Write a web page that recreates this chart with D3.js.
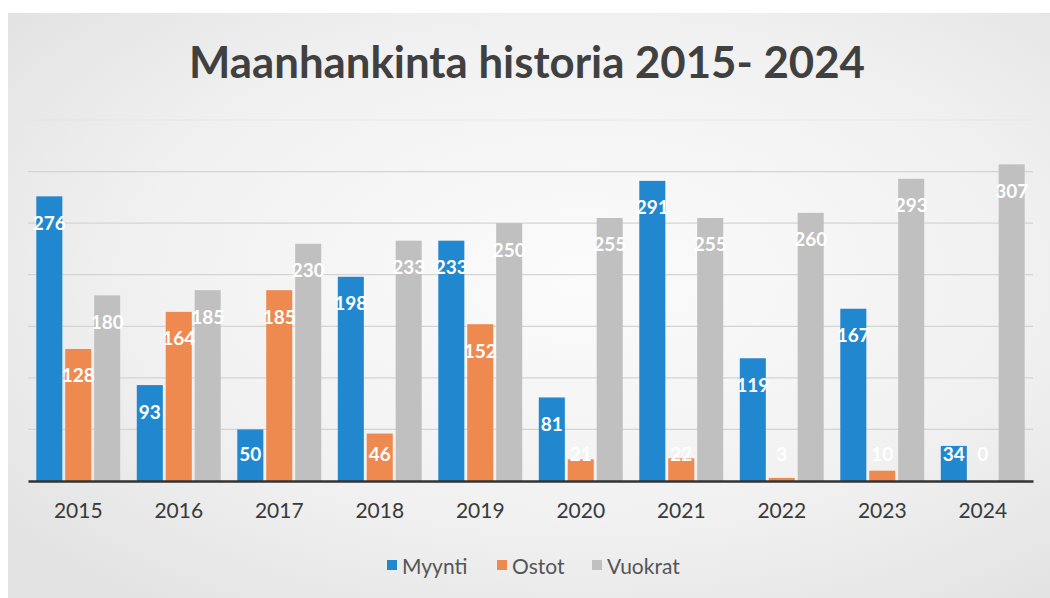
<!DOCTYPE html>
<html>
<head>
<meta charset="utf-8">
<script src="https://cdn.jsdelivr.net/npm/d3@7"></script>
<style>
  html, body { margin: 0; padding: 0; background: #ffffff; }
  svg { display: block; }
</style>
</head>
<body>
<svg id="chart" width="1050" height="598"></svg>
<script>
// ---- data ----
const years = ["2015","2016","2017","2018","2019","2020","2021","2022","2023","2024"];
const seriesNames = ["Myynti","Ostot","Vuokrat"];
const myynti  = [276, 93, 50, 198, 233, 81, 291, 119, 167, 34];
const ostot   = [128, 164, 185, 46, 152, 21, 22, 3, 10, 0];
const vuokrat = [180, 185, 230, 233, 250, 255, 255, 260, 293, 307];
const yTicks  = [0, 50, 100, 150, 200, 250, 300, 350];
const titleText = "Maanhankinta historia 2015- 2024";

const seriesValues = { "Myynti": myynti, "Ostot": ostot, "Vuokrat": vuokrat };
const colors = { "Myynti": "#2188cf", "Ostot": "#ee8a4f", "Vuokrat": "#c0c0c0" };

const svg = d3.select("#chart");
const W = 1050, H = 598;

// background (photographed page look)
const defs = svg.append("defs");
const rg = defs.append("radialGradient").attr("id", "bg")
  .attr("cx", "55%").attr("cy", "45%").attr("r", "70%");
rg.append("stop").attr("offset", "0%").attr("stop-color", "#fbfbfb");
rg.append("stop").attr("offset", "60%").attr("stop-color", "#f1f1f1");
rg.append("stop").attr("offset", "100%").attr("stop-color", "#e3e3e3");
svg.append("rect").attr("x", 0).attr("y", 0).attr("width", W).attr("height", H).attr("fill", "#ffffff");
svg.append("rect").attr("x", 8).attr("y", 13).attr("width", W - 8).attr("height", H - 13).attr("fill", "url(#bg)");

// scales
const x0 = d3.scaleBand().domain(years).range([28, 1033]).paddingInner(0.165).paddingOuter(0.0825);
const x1 = d3.scaleBand().domain(seriesNames).range([0, x0.bandwidth()]).paddingInner(0.1);
const y = d3.scaleLinear().domain([0, 350]).range([481, 120]);

// gridlines
svg.append("g")
  .selectAll("line")
  .data(yTicks.filter(d => d > 0))
  .join("line")
  .attr("x1", 28).attr("x2", 1033)
  .attr("y1", d => y(d)).attr("y2", d => y(d))
  .attr("stroke", d => d === 350 ? "#e6e6e6" : "#d4d4d4")
  .attr("stroke-width", 1.2);

// bars
const groups = svg.append("g").selectAll("g")
  .data(years)
  .join("g")
  .attr("transform", d => `translate(${x0(d)},0)`);

groups.selectAll("rect")
  .data((yr, i) => seriesNames.map(s => ({ s, v: seriesValues[s][i] })))
  .join("rect")
  .attr("x", d => x1(d.s))
  .attr("width", x1.bandwidth())
  .attr("y", d => y(d.v))
  .attr("height", d => y(0) - y(d.v))
  .attr("fill", d => colors[d.s]);

// data labels
groups.selectAll("text")
  .data((yr, i) => seriesNames.map(s => ({ s, v: seriesValues[s][i] })))
  .join("text")
  .attr("x", d => x1(d.s) + x1.bandwidth() / 2)
  .attr("y", d => Math.min(y(d.v) + 26, y(0) - 28))
  .attr("text-anchor", "middle")
  .attr("dominant-baseline", "central")
  .attr("font-family", "Lato, 'Open Sans', sans-serif")
  .attr("font-weight", "bold")
  .attr("font-size", 19)
  .attr("fill", "#ffffff")
  .text(d => d.v);

// x axis
const xAxis = d3.axisBottom(x0).tickSize(0).tickPadding(22);
const ax = svg.append("g").attr("transform", `translate(0,${y(0)})`).call(xAxis);
ax.select(".domain").attr("stroke", "#333333").attr("stroke-width", 2.6);
ax.selectAll("text")
  .attr("font-family", "Lato, 'Open Sans', sans-serif")
  .attr("font-size", 21)
  .attr("fill", "#3a3a3a");

// title
const title = svg.append("text")
  .attr("x", 527).attr("y", 78)
  .attr("text-anchor", "middle")
  .attr("font-family", "Lato, 'Open Sans', sans-serif")
  .attr("font-weight", "bold")
  .attr("font-size", 42)
  .attr("fill", "#404040")
  .text(titleText);
const tw = title.node().getComputedTextLength();
title.attr("font-size", 42 * 676 / tw);

// legend
const legendX = { "Myynti": 387, "Ostot": 497, "Vuokrat": 592 };
const lg = svg.append("g").selectAll("g")
  .data(seriesNames)
  .join("g")
  .attr("transform", d => `translate(${legendX[d]},565)`);
lg.append("rect").attr("x", 0).attr("y", -5).attr("width", 10).attr("height", 10)
  .attr("fill", d => colors[d]);
lg.append("text").attr("x", 15).attr("y", 0)
  .attr("dominant-baseline", "central")
  .attr("font-family", "Lato, 'Open Sans', sans-serif")
  .attr("font-size", 21)
  .attr("fill", "#555555")
  .text(d => d);
</script>
</body>
</html>
